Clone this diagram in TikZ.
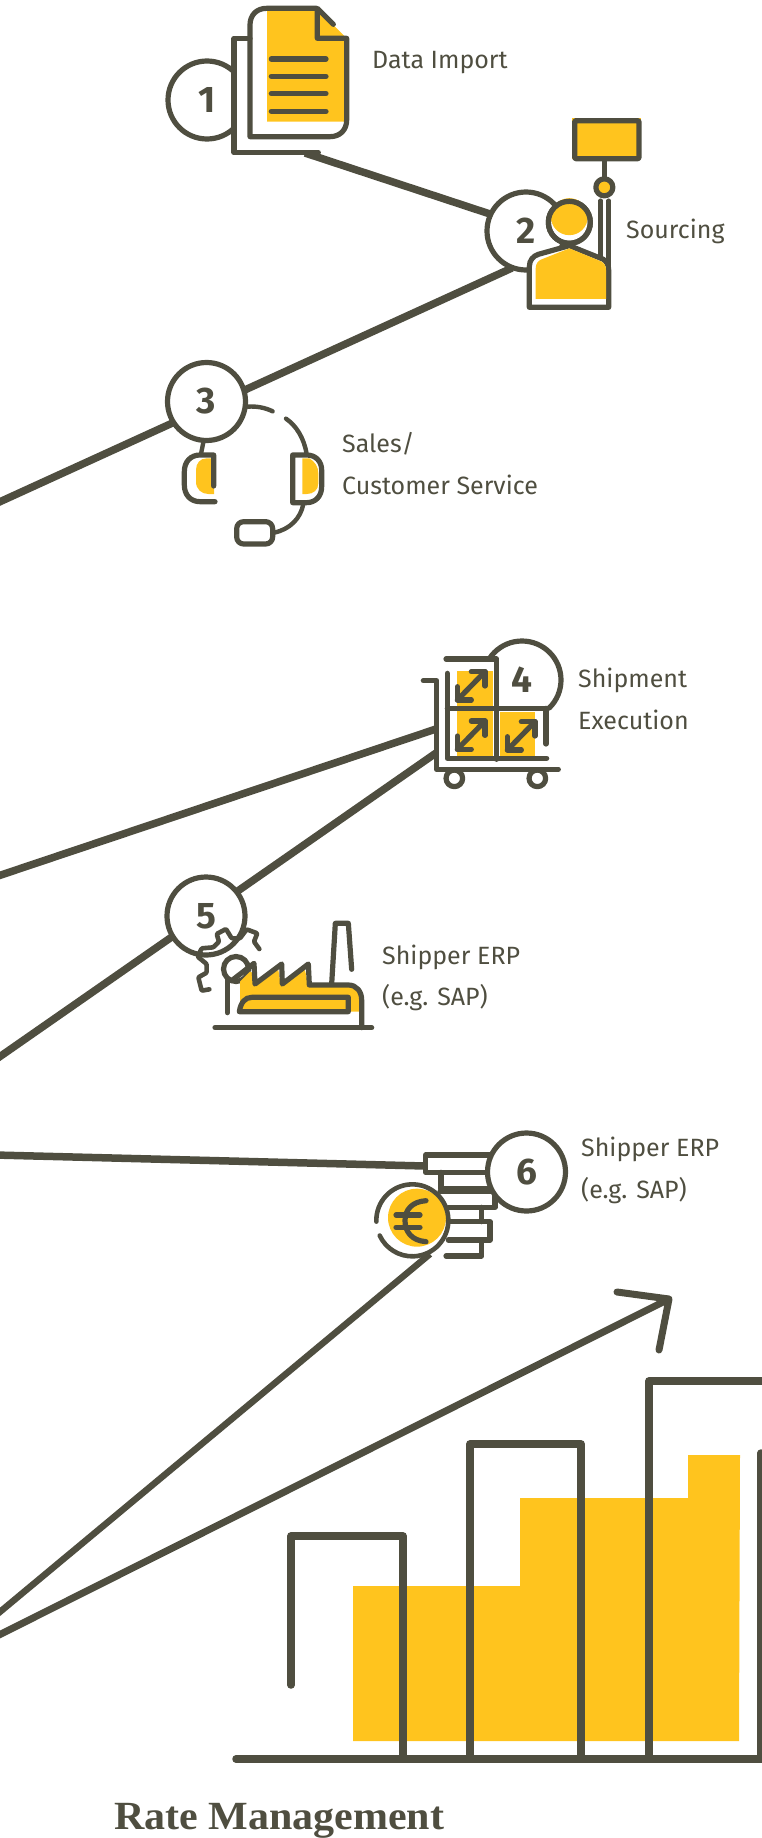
\documentclass[tikz,border=0pt]{standalone}
\usepackage{fontspec}
\setmainfont{Fira Sans}
\newfontfamily\titlefont[FakeStretch=1.05]{Liberation Serif}
\definecolor{ink}{HTML}{4F4E40}
\definecolor{gold}{HTML}{FFC41E}
\tikzset{
  ln/.style={draw=ink,line width=5.2pt,line join=round,line cap=round},
  conn/.style={draw=ink,line width=7.5pt},
  numc/.style={circle,draw=ink,fill=white,line width=5.2pt,minimum size=78pt,inner sep=0pt,text=ink,font=\fontsize{37}{37}\selectfont\bfseries},
  lab/.style={anchor=base west,inner sep=0pt,text=ink,font=\fontsize{25}{25}\selectfont},
  yl/.style={fill=gold,draw=none},
  zm/.style n args={2}{shift={(#1,#2)},x=0.33333pt,y=-0.33333pt},
  x=1pt,y=-1pt
}
\begin{document}
\begin{tikzpicture}
\useasboundingbox (0,0) rectangle (762,1838);
% connectors behind
\coordinate (c1a) at (305,153);
\coordinate (c2a) at (490,214);
\coordinate (c2b) at (512,268);
\coordinate (e3) at (-5,504);
\coordinate (c4a) at (436,729);
\coordinate (e4a) at (-5,877);
\coordinate (c4b) at (436,753);
\coordinate (e5) at (-5,1060);
\coordinate (c6) at (425,1166);
\coordinate (e6) at (-5,1155);
\coordinate (c7) at (430,1254);
\coordinate (e7) at (-5,1616);
\coordinate (c8) at (669,1299);
\coordinate (e8) at (-5,1637);
\draw[conn] (c1a) -- (c2a);
\draw[conn] (c2b) -- (e3);
\draw[conn] (c4a) -- (e4a);
\draw[conn] (c4b) -- (e5);
\draw[conn] (c6) -- (e6);
\draw[conn,line width=6.5pt] (c7) -- (e7);

% ---- icon 1
\node[numc] (n1) at (207,100) {1};
\begin{scope}[zm={150}{0}]
\fill[white] (252,115) rectangle (300,458);
\fill[white] (252,405) rectangle (505,458);
\draw[ln] (300,115) -- (252,115) -- (252,458) -- (505,458);
\fill[yl] (351,25) -- (500,25) -- (590,115) -- (590,365) -- (351,365) -- cycle;
\draw[ln] (500,25) -- (350,25) .. controls (320,25) and (300,45) .. (300,75) -- (300,410) -- (540,410) .. controls (570,410) and (590,390) .. (590,360) -- (590,115) -- (502,115) -- (502,25) -- (550,73);
\foreach \yy in {177,229,281,334} \draw[ln] (364,\yy) -- (528,\yy);
\end{scope}
\node[lab] (t1) at (372,69) {Data Import};

% ---- icon 2
\node[numc] (n2) at (526,231) {2};
\begin{scope}[zm={470}{100}]
\draw[ln,line width=4.4pt] (392,302) -- (392,480);
\draw[ln,line width=4.4pt] (416,302) -- (416,620);
\draw[ln,fill=white] (178,622) -- (178,500) .. controls (178,480) and (190,468) .. (205,463) -- (298,437) -- (400,478) .. controls (410,485) and (416,495) .. (416,510) -- (416,622) -- cycle;
\fill[yl] (197,597) -- (197,505) .. controls (197,490) and (205,482) .. (215,478) -- (298,445) -- (395,485) .. controls (403,490) and (408,497) .. (408,510) -- (408,597) -- cycle;
\draw[ln,fill=white] (298,367) circle[radius=21pt];
\fill[yl] (298,350) circle[radius=18.5pt];
\draw[ln] (298,367) circle[radius=21pt];
\draw[ln] (403,262) -- (403,175);
\draw[ln,fill=gold] (403,262) circle[radius=8.5pt];
\fill[yl] (306,54) rectangle (514,178);
\draw[ln,fill=gold,rounded corners=1pt] (314,62) rectangle (507,176);
\end{scope}
\node[lab] (t2) at (626,238) {Sourcing};

% ---- icon 3
\node[numc] (n3) at (206.5,401.5) {3};
\begin{scope}[zm={150}{350}]
\fill[yl] (192,325) -- (170,325) .. controls (150,325) and (138,340) .. (138,360) -- (138,395) .. controls (138,418) and (155,432) .. (175,432) -- (192,432) -- cycle;
\fill[yl] (457,325) -- (478,325) .. controls (495,335) and (505,350) .. (505,370) -- (505,400) .. controls (505,420) and (490,432) .. (470,432) -- (457,432) -- cycle;
\draw[ln,line width=4.4pt] (293,170) .. controls (320,168) and (345,173) .. (368,184);
\draw[ln,line width=4.4pt] (408,206) .. controls (440,228) and (462,265) .. (470,312);
\draw[ln,line width=4.4pt,line cap=butt] (160,277) -- (153,312);
\draw[ln] (191,408) -- (191,315) -- (150,315) .. controls (122,315) and (103,335) .. (103,365) -- (103,405) .. controls (103,435) and (122,455) .. (150,455) -- (195,455);
\draw[ln] (428,458) -- (428,315) -- (470,315) .. controls (498,315) and (515,335) .. (515,360) -- (515,410) .. controls (515,440) and (495,458) .. (470,458) -- cycle;
\draw[ln,line width=4.4pt,line cap=butt] (460,462) .. controls (452,505) and (420,538) .. (372,548);
\draw[ln,rounded corners=7pt] (260,515) rectangle (368,582);
\end{scope}
\node[lab] (t3a) at (342,452) {Sales/};
\node[lab] (t3b) at (342,494) {Customer Service};

% ---- icon 4
\node[numc] (n4) at (522,680) {4};
\begin{scope}[zm={410}{630}]
\fill[white] (125,92) rectangle (256,232);
\fill[white] (262,240) rectangle (430,330);
\fill[yl] (141,124) rectangle (250,378);
\fill[yl] (270,245) rectangle (375,378);
\draw[ln] (108,87) -- (260,87) -- (260,388);
\draw[ln] (112,130) -- (112,385) -- (410,385);
\draw[ln] (112,235) -- (415,235);
\draw[ln] (408,235) -- (408,342);
\draw[ln] (40,152) -- (80,152) -- (80,418) -- (445,418);
\draw[ln,fill=white] (133,445) circle[radius=8.3pt];
\draw[ln,fill=white] (382,445) circle[radius=8.3pt];
\foreach \ax/\ay in {142/210,142/358,292/360}{
  \draw[ln] (\ax,\ay) -- (\ax+83,\ay-85);
  \draw[ln] (\ax,\ay-40) -- (\ax,\ay) -- (\ax+42,\ay);
  \draw[ln] (\ax+42,\ay-85) -- (\ax+83,\ay-85) -- (\ax+83,\ay-42);
}
\end{scope}
\node[lab] (t4a) at (578,687) {Shipment};
\node[lab] (t4b) at (578,729) {Execution};

% ---- icon 5
\node[numc] (n5) at (206,916) {5};
\begin{scope}[zm={150}{860}]
\draw[ln,line width=4.6pt,rounded corners=1pt] (328,267) -- (312,245) -- (322,220) -- (290,208) -- (270,235) -- (245,235) -- (228,207) -- (200,222) -- (207,245) -- (190,262) -- (155,265) -- (143,290) -- (170,312) -- (170,338) -- (145,352) -- (155,392) -- (178,388);
\fill[yl] (270,365) -- (300,335) -- (312,370) -- (385,330) -- (392,372) -- (465,330) -- (475,375) -- (600,375) -- (630,400) -- (630,455) -- (270,455) -- cycle;
\draw[ln] (232,458) -- (232,360);
\draw[ln,fill=white] (258,327) circle[radius=12.5pt];
\fill[yl] (270,365) -- (300,335) -- (312,340) -- (312,372) -- (270,390) -- cycle;
\draw[ln] (245,362) -- (312,310) -- (315,372) -- (395,312) -- (397,372) -- (475,312) -- (478,375) -- (595,375) .. controls (620,375) and (635,395) .. (635,420) -- (635,503);
\draw[ln] (545,372) -- (556,190) -- (595,190) -- (605,328);
\draw[ln] (268,455) .. controls (272,428) and (285,412) .. (305,412) -- (595,412) -- (595,455) -- cycle;
\draw[ln] (195,503) -- (665,503);
\end{scope}
\node[lab] (t5a) at (382,964) {Shipper ERP};
\node[lab] (t5b) at (382,1005) {(e.g. SAP)};

% ---- icon 6
\begin{scope}[zm={360}{1110}]
\draw[ln,fill=white] (395,135) -- (197,135) -- (197,187) -- (390,187);
\draw[ln] (243,187) -- (243,237) -- (390,237);
\draw[ln] (240,245) -- (405,245) -- (405,292) -- (265,292);
\draw[ln] (365,292) -- (365,335);
\draw[ln] (270,335) -- (390,335) -- (390,390) -- (265,390);
\draw[ln] (365,390) -- (365,438) -- (258,438);
\fill[white] (157,331) circle[radius=37pt];
\fill[yl] (171,323) circle[radius=29pt];
\draw[ln,line width=4.6pt] ([shift={(182:36pt)}]157,331) arc[start angle=182,end angle=-155,radius=36pt];
\draw[ln] (198,272) .. controls (155,275) and (135,300) .. (135,332) .. controls (135,365) and (155,392) .. (198,395);
\draw[ln] (108,315) -- (180,315);
\draw[ln] (108,352) -- (180,352);
\end{scope}
\node[numc] (n6) at (526.5,1172) {6};
\node[lab] (t6a) at (581,1156) {Shipper ERP};
\node[lab] (t6b) at (581,1198) {(e.g. SAP)};

% ---- chart
\fill[yl] (353,1741) -- (353,1586) -- (520,1586) -- (520,1498) -- (688,1498) -- (688,1455) -- (740,1455) -- (739,1741) -- cycle;
\draw[conn,line width=7pt] (e8) -- (c8);
\coordinate (hd1) at (617,1292);
\coordinate (hd2) at (659,1350);
\draw[ln,line width=7pt] (hd1) -- (c8) -- (hd2);
\tikzset{bar/.style={draw=ink,line width=7.5pt,line join=round,line cap=round}}
\draw[bar] (291,1685) -- (291,1536) -- (403,1536) -- (403,1759);
\draw[bar] (470,1759) -- (470,1444) -- (581,1444) -- (581,1759);
\draw[bar] (649,1759) -- (649,1381) -- (770,1381);
\draw[bar] (761,1453) -- (761,1759);
\draw[bar] (236,1759) -- (770,1759);
\node[anchor=base west,inner sep=0pt,text=ink,font=\titlefont\fontsize{40}{40}\selectfont\bfseries] (title) at (114,1829) {Rate Management};
\end{tikzpicture}
\end{document}
